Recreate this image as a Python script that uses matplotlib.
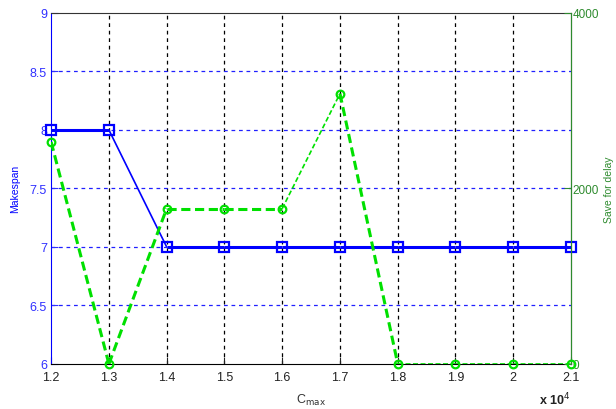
import numpy as np
import matplotlib.pyplot as plt

plt.rcParams['font.family'] = ['Liberation Sans', 'DejaVu Sans']

cmax = [1.2, 1.3, 1.4, 1.5, 1.6, 1.7, 1.8, 1.9, 2.0, 2.1]
makespan = [8, 8, 7, 7, 7, 7, 7, 7, 7, 7]
save_delay = [2530, 0, 1770, 1770, 1770, 3080, 0, 0, 0, 0]

# segment widths imitate the uneven look of the original export
blue_lw = [2.2, 1.2, 2.2, 2.2, 2.2, 2.2, 2.2, 2.2, 2.2]
green_lw = [2.2, 2.2, 2.2, 2.2, 1.2, 2.2, 1.2, 1.2, 1.2]

fig = plt.figure(figsize=(6.16, 4.1), dpi=100)
ax = fig.add_axes([0.083, 0.110, 0.844, 0.856])
ax2 = ax.twinx()

ax.set_xlim(1.2, 2.1)
ax.set_ylim(6, 9)
ax2.set_ylim(0, 4000)

# grid: black dashed verticals, blue dashed horizontals
for xv in cmax[1:-1]:
    ax.axvline(xv, color='black', ls=(0, (3, 3)), lw=0.9, zorder=1)
for yv in [6.5, 7, 7.5, 8, 8.5]:
    ax.axhline(yv, color='#2020ff', ls=(0, (3, 3)), lw=0.9, zorder=1)

for i in range(len(cmax) - 1):
    ax.plot(cmax[i:i + 2], makespan[i:i + 2], color='#0000ff', lw=blue_lw[i],
            solid_capstyle='butt', zorder=3)
ax.plot(cmax, makespan, ls='none', marker='s', ms=6.5, mfc='none', mec='#0000ff',
        mew=1.6, zorder=4, clip_on=False)

for i in range(len(cmax) - 1):
    ax2.plot(cmax[i:i + 2], save_delay[i:i + 2], color='#00e000', lw=green_lw[i],
             ls=(0, (3, 1.5)), zorder=3)
ax2.plot(cmax, save_delay, ls='none', marker='o', ms=5.5, mfc='none', mec='#00e000',
         mew=1.6, zorder=4, clip_on=False)

ax.set_xticks(cmax)
ax.set_xticklabels(['1.2', '1.3', '1.4', '1.5', '1.6', '1.7', '1.8', '1.9', '2', '2.1'])
ax.set_yticks([6, 6.5, 7, 7.5, 8, 8.5, 9])
ax.set_yticklabels(['6', '6.5', '7', '7.5', '8', '8.5', '9'])
ax2.set_yticks([0, 2000, 4000])

ax.tick_params(axis='x', direction='in', colors='#222222', labelsize=9, length=5, pad=5)
ax.tick_params(axis='y', direction='in', colors='#3030ff', labelsize=9, length=5, pad=3)
ax2.tick_params(axis='y', direction='in', colors='#2e8b2e', labelsize=8.5, length=5, pad=1)

ax.spines['left'].set_color('#0000ff')
ax.spines['bottom'].set_color('black')
ax.spines['top'].set_color('#333333')
ax2.spines['right'].set_color('#2e8b2e')
ax2.spines['left'].set_visible(False)
ax2.spines['top'].set_visible(False)
ax2.spines['bottom'].set_visible(False)

ax.set_xlabel('C$_{\\mathrm{max}}$', fontsize=9, color='#333333')
ax.xaxis.set_label_coords(0.5, -0.08)
ax.set_ylabel('Makespan', fontsize=7.5, color='#0000ff')
ax.yaxis.set_label_coords(-0.06, 0.5)
ax2.set_ylabel('Save for delay', fontsize=7.5, color='#2e8b2e')
ax2.yaxis.set_label_coords(1.063, 0.5)

fig.text(0.875, 0.012, 'x 10$^{4}$', fontsize=9, color='#222222', fontweight='bold')

fig.savefig('out.png', dpi=100)
